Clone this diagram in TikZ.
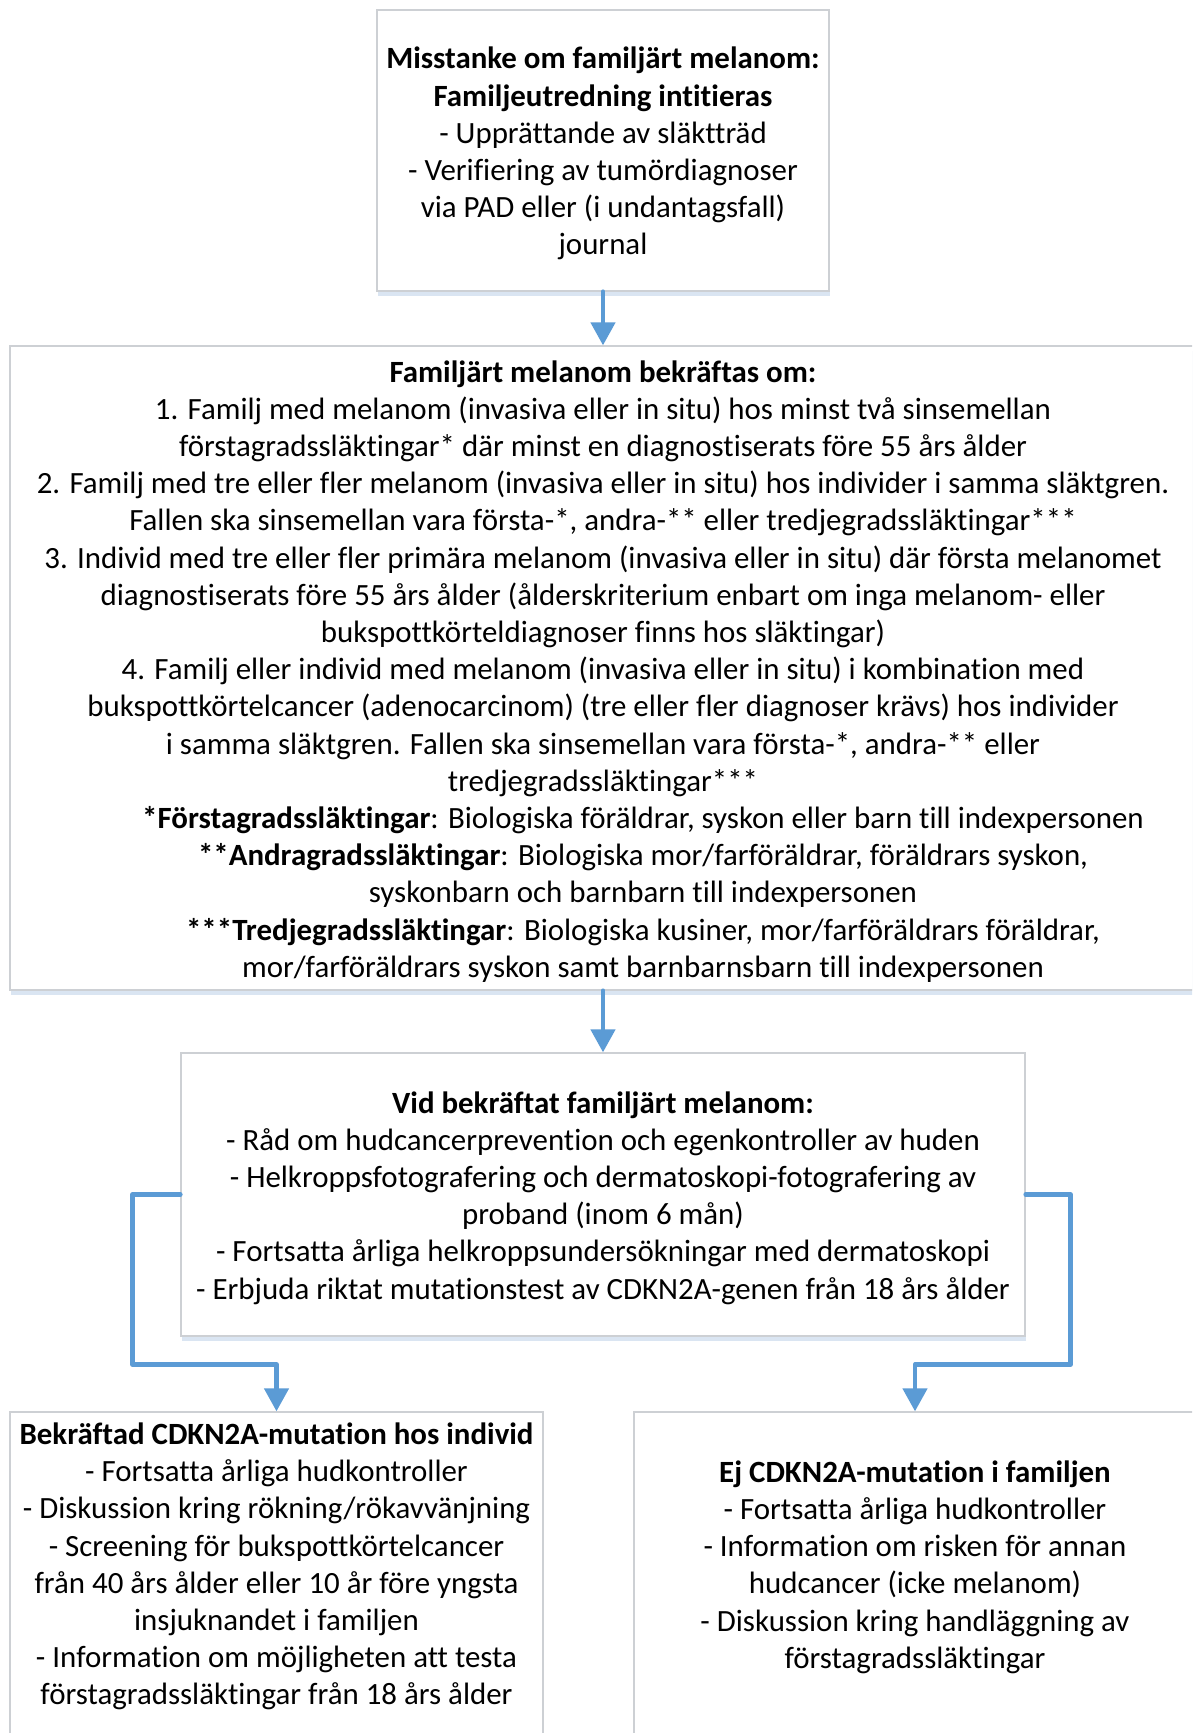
\documentclass[tikz,border=0pt]{standalone}
\usepackage{fontspec}
\setmainfont{Carlito}[Ligatures={NoCommon}]
\usetikzlibrary{arrows.meta,calc,shadows}
\definecolor{arrowblue}{HTML}{5B9BD5}
\definecolor{boxline}{HTML}{CDD0D4}
\definecolor{shadowblue}{HTML}{DAE5F2}
\begin{document}
\begin{tikzpicture}[x=1pt,y=-1pt,
  box/.style={draw=boxline, line width=1.3pt, fill=white, rectangle, inner sep=0pt},
  shade/.style={drop shadow={shadow xshift=1pt, shadow yshift=-5pt, fill=shadowblue, opacity=1}},
  txt/.style={inner sep=0pt, align=center, font=\fontsize{30.9}{37.2}\selectfont},
  conn/.style={draw=arrowblue, line width=4.5pt, line cap=round, line join=round,
    -{Triangle[width=24pt,length=23pt]}}
]
\useasboundingbox (0,0) rectangle (1192,1733);
\clip (0,0) rectangle (1192,1733);
\fill[white] (0,0) rectangle (1192,1733);

\node[box, shade, minimum width=452pt, minimum height=281pt] (box1) at (603,150.5) {};
\node[box, shade, minimum width=1186pt, minimum height=644pt] (box2) at (603,668) {};
\node[box, shade, minimum width=844pt, minimum height=283pt] (box3) at (603,1194.5) {};
\node[box, minimum width=533pt, minimum height=348pt] (box4) at (276.5,1586) {};
\node[box, minimum width=562pt, minimum height=348pt] (box5) at (915,1586) {};

\node[txt] (t1) at (603,153.8)
{\textbf{Misstanke om familjärt melanom:}\\
\textbf{Familjeutredning intitieras}\\
- Upprättande av släktträd\\
- Verifiering av tumördiagnoser\\
via PAD eller (i undantagsfall)\\
journal};

\node[txt] (t2) at (603,671.3)
{\textbf{Familjärt melanom bekräftas om:}\\
1. Familj med melanom (invasiva eller in situ) hos minst två sinsemellan\\
förstagradssläktingar* där minst en diagnostiserats före 55 års ålder\\
2. Familj med tre eller fler melanom (invasiva eller in situ) hos individer i samma släktgren.\\
Fallen ska sinsemellan vara första-*, andra-** eller tredjegradssläktingar***\\
3. Individ med tre eller fler primära melanom (invasiva eller in situ) där första melanomet\\
diagnostiserats före 55 års ålder (ålderskriterium enbart om inga melanom- eller\\
bukspottkörteldiagnoser finns hos släktingar)\\
4. Familj eller individ med melanom (invasiva eller in situ) i kombination med\\
bukspottkörtelcancer (adenocarcinom) (tre eller fler diagnoser krävs) hos individer\\
i samma släktgren. Fallen ska sinsemellan vara första-*, andra-** eller\\
tredjegradssläktingar***\\
\hspace*{80pt}\textbf{*Förstagradssläktingar}: Biologiska föräldrar, syskon eller barn till indexpersonen\\
\hspace*{80pt}\textbf{**Andragradssläktingar}: Biologiska mor/farföräldrar, föräldrars syskon,\\
\hspace*{80pt}syskonbarn och barnbarn till indexpersonen\\
\hspace*{80pt}\textbf{***Tredjegradssläktingar}: Biologiska kusiner, mor/farföräldrars föräldrar,\\
\hspace*{80pt}mor/farföräldrars syskon samt barnbarnsbarn till indexpersonen};

\node[txt] (t3) at (603,1197.8)
{\textbf{Vid bekräftat familjärt melanom:}\\
- Råd om hudcancerprevention och egenkontroller av huden\\
- Helkroppsfotografering och dermatoskopi-fotografering av\\
proband (inom 6 mån)\\
- Fortsatta årliga helkroppsundersökningar med dermatoskopi\\
- Erbjuda riktat mutationstest av CDKN2A-genen från 18 års ålder};

\node[txt] (t4) at (276.5,1566.5)
{\textbf{Bekräftad CDKN2A-mutation hos individ}\\
- Fortsatta årliga hudkontroller\\
- Diskussion kring rökning/rökavvänjning\\
- Screening för bukspottkörtelcancer\\
från 40 års ålder eller 10 år före yngsta\\
insjuknandet i familjen\\
- Information om möjligheten att testa\\
förstagradssläktingar från 18 års ålder};

\node[txt] (t5) at (915,1567)
{\textbf{Ej CDKN2A-mutation i familjen}\\
- Fortsatta årliga hudkontroller\\
- Information om risken för annan\\
hudcancer (icke melanom)\\
- Diskussion kring handläggning av\\
förstagradssläktingar};

\draw[conn] (box1.south) -- (box2.north);
\draw[conn] (box2.south) -- (box3.north);
\draw[conn] (box3.west) -- ++(-48,0) |- ($(box4.north)+(0,-47)$) -- (box4.north);
\draw[conn] (box3.east) -- ++(45,0) |- ($(box5.north)+(0,-47)$) -- (box5.north);
\end{tikzpicture}
\end{document}
